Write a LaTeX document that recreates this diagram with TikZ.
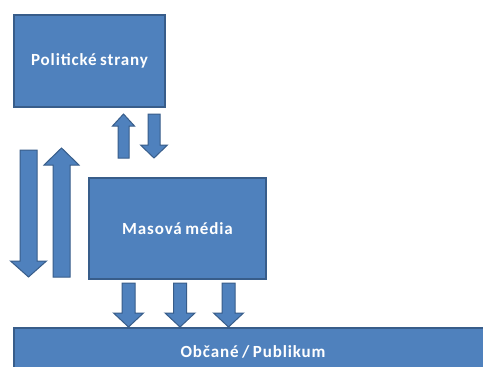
\documentclass[tikz,border=0pt]{standalone}
\usepackage{fontspec}
\setmainfont{Carlito}
\newfontfamily\labelfont[LetterSpace=5, WordSpace=0.75]{Carlito}
\usepackage{tikz}
\usetikzlibrary{positioning}
\definecolor{boxfill}{HTML}{4F81BD}
\definecolor{boxline}{HTML}{385D8A}
\tikzset{
  actorbox/.style={draw=boxline, line width=1.3pt, fill=boxfill},
  actorlabel/.style={text=white, font=\labelfont\fontsize{17}{20}\selectfont\bfseries},
  blockarrow/.style={draw=boxline, line width=1pt, fill=boxfill, line join=miter}
}
% block arrow: centre x, tail y, head base y, tip y, half shaft, half head
\newcommand{\vblock}[6]{%
  \draw[blockarrow] ({#1-#5},#2) -- ({#1+#5},#2) -- ({#1+#5},#3) -- ({#1+#6},#3)
    -- (#1,#4) -- ({#1-#6},#3) -- ({#1-#5},#3) -- cycle;}
\begin{document}
\begin{tikzpicture}[x=1pt, y=-1pt]
  \useasboundingbox (0,0) rectangle (483,367);
  \clip (0,0) rectangle (483,367);
  \fill[white] (0,0) rectangle (483,367);
  % the three actors
  \draw[actorbox] (14,15) rectangle (165,107);
  \node[actorlabel] (parties) at (89.5,61) {Politické strany};
  \draw[actorbox] (89,178) rectangle (266,279);
  \node[actorlabel] (media) at (177.5,229) {Masová média};
  \draw[actorbox] (14,328) rectangle (495,380);
  \node[actorlabel] (public) at (253,352) {Občané / Publikum};
  % parties <-> media
  \vblock{123.5}{158}{126}{114}{5.5}{11}
  \vblock{154}{114}{145}{158}{6}{13.5}
  % parties <-> public
  \vblock{28.5}{150}{261}{277}{8.5}{18}
  \vblock{61.5}{277}{165}{148}{8.5}{17.5}
  % media -> public
  \foreach \cx in {128.5,180,228.5}{
    \vblock{\cx}{283}{313}{327}{6.5}{15}
  }
\end{tikzpicture}
\end{document}
